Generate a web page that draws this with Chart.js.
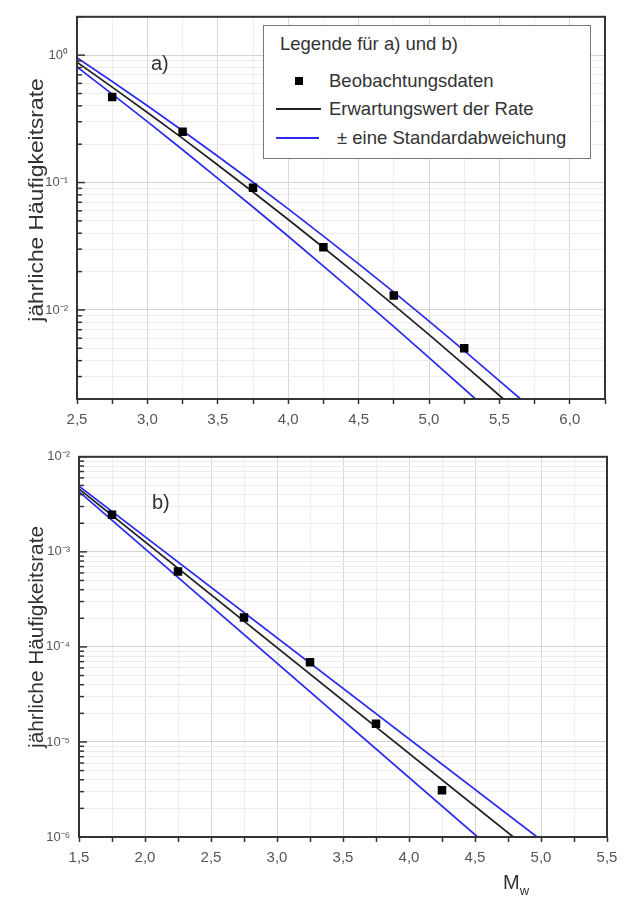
<!DOCTYPE html>
<html>
<head>
<meta charset="utf-8">
<script src="https://cdn.jsdelivr.net/npm/chart.js@4.4.1/dist/chart.umd.min.js"></script>
<style>
  body { margin: 0; background: #fff; width: 632px; height: 897px; position: relative; overflow: hidden;
         font-family: "Liberation Sans", Arial, sans-serif; color: #333; }
  canvas { position: absolute; left: 0; }
  .ovl { position: absolute; white-space: nowrap; }
  .ytitle { font-size: 20px; transform: translate(-50%, -50%) rotate(-90deg) scaleX(1.14); transform-origin: center; }
  .panel { font-size: 20px; line-height: 20px; }
  #legend { left: 263px; top: 25px; width: 328px; height: 134px; border: 1px solid #777; background: #fff; box-sizing: border-box; }
  #legend div { position: absolute; white-space: nowrap; font-size: 18.5px; line-height: 22px; height: 22px; }
  .sw { position: absolute; }
</style>
</head>
<body>
<canvas id="chartA" width="632" height="440" style="top:0"></canvas>
<canvas id="chartB" width="632" height="457" style="top:440px"></canvas>

<div class="ovl ytitle" style="left:36px; top:200px;">jährliche Häufigkeitsrate</div>
<div class="ovl ytitle" style="left:36px; top:637px; transform: translate(-50%, -50%) rotate(-90deg) scaleX(1.04);">jährliche Häufigkeitsrate</div>
<div class="ovl panel" style="left:151px; top:53px;">a)</div>
<div class="ovl panel" style="left:152px; top:492px;">b)</div>
<div class="ovl" style="left:503px; top:872px; font-size:20px; line-height:20px;">M<span style="font-size:13px; position:relative; top:6px;">w</span></div>

<div class="ovl" id="legend">
  <div style="left:16px; top:7px;">Legende für a) und b)</div>
  <span class="sw" style="left:31px; top:51px; width:8px; height:8px; background:#000;"></span>
  <div style="left:65px; top:44px;">Beobachtungsdaten</div>
  <span class="sw" style="left:12px; top:82px; width:45px; height:2px; background:#222;"></span>
  <div style="left:65px; top:72px;">Erwartungswert der Rate</div>
  <span class="sw" style="left:12px; top:111px; width:43px; height:2px; background:#2b2bf0;"></span>
  <div style="left:73px; top:101px;">± eine Standardabweichung</div>
</div>

<script>
// a) observed rates and fitted curves
const topObsM = [2.75, 3.25, 3.75, 4.25, 4.75, 5.25];
const topObsRate = [0.47, 0.25, 0.091, 0.031, 0.013, 0.005];
const topFitM = [2.5, 2.75, 3.0, 3.25, 3.5, 3.75, 4.0, 4.25, 4.5, 4.75, 5.0, 5.25, 5.5, 5.53];
const topFitRate = [0.88, 0.561, 0.355, 0.222, 0.1374, 0.0843, 0.0513, 0.0309, 0.01845, 0.0109, 0.0064, 0.0037, 0.00213, 0.002];
const topUpM = [2.5, 2.75, 3.0, 3.25, 3.5, 3.75, 4.0, 4.25, 4.5, 4.75, 5.0, 5.25, 5.5, 5.65];
const topUpRate = [0.955, 0.622, 0.401, 0.255, 0.161, 0.1006, 0.0622, 0.038, 0.023, 0.0138, 0.00817, 0.00479, 0.00278, 0.002];
const topLowM = [2.5, 2.75, 3.0, 3.25, 3.5, 3.75, 4.0, 4.25, 4.5, 4.75, 5.0, 5.33];
const topLowRate = [0.809, 0.495, 0.301, 0.181, 0.108, 0.0643, 0.0379, 0.0221, 0.01285, 0.0074, 0.00423, 0.002];

// b)
const botObsM = [1.75, 2.25, 2.75, 3.25, 3.75, 4.25];
const botObsRate = [0.00245, 0.00062, 0.000204, 0.000069, 0.0000155, 0.0000031];
const botFitM = [1.5, 4.79];
const botFitRate = [0.0046, 0.000001];
const botUpM = [1.5, 4.97];
const botUpRate = [0.0049, 0.000001];
const botLowM = [1.5, 4.52];
const botLowRate = [0.0043, 0.000001];

// axes
const topXRange = [2.5, 6.25];
const topYRange = [0.002, 2];
const botXRange = [1.5, 5.5];
const botYRange = [0.000001, 0.01];
const minorSteps = [1, 2, 3, 4, 5, 6, 7, 8, 9];

Chart.defaults.font.family = '"Liberation Sans", Arial, sans-serif';

const supMap = {'-': '⁻', '0': '⁰', '1': '¹', '2': '²', '3': '³', '4': '⁴', '5': '⁵', '6': '⁶', '7': '⁷', '8': '⁸', '9': '⁹'};
function powLabel(v) {
  const l = Math.log10(v), e = Math.round(l);
  if (Math.abs(l - e) > 1e-6) return '';
  return '10' + String(e).split('').map(c => supMap[c]).join('');
}
function logTicks(min, max) {
  const out = [];
  for (let e = Math.floor(Math.log10(min)); e <= Math.ceil(Math.log10(max)); e++) {
    minorSteps.forEach(k => {
      const v = k * Math.pow(10, e);
      if (v >= min * 0.999 && v <= max * 1.001) out.push(v);
    });
  }
  return out;
}
const isHalf = v => Math.abs(v * 2 - Math.round(v * 2)) < 1e-6;
const pts = (xs, ys) => xs.map((x, i) => ({x: x, y: ys[i]}));

const framePlugin = {
  id: 'frame',
  afterDatasetsDraw(chart) {
    const {ctx, chartArea: a} = chart;
    const y = chart.scales.y;
    ctx.save();
    ctx.strokeStyle = '#333';
    ctx.lineWidth = 1.5;
    y.ticks.forEach(t => {
      const py = y.getPixelForValue(t.value);
      const len = powLabel(t.value) ? 8 : 5;
      ctx.beginPath();
      ctx.moveTo(a.left, py);
      ctx.lineTo(a.left + len, py);
      ctx.stroke();
    });
    ctx.lineWidth = 2;
    ctx.strokeRect(a.left, a.top, a.right - a.left, a.bottom - a.top);
    ctx.restore();
  }
};

function buildChart(id, o) {
  const line = (label, data, color) => ({label, data, borderColor: color, borderWidth: 1.7,
    pointRadius: 0, fill: false, tension: 0});
  return new Chart(document.getElementById(id), {
    type: 'line',
    data: {
      datasets: [
        {label: 'Beobachtungsdaten', data: o.obs, showLine: false, pointStyle: 'rect', pointRadius: 6,
         pointBackgroundColor: '#000', pointBorderColor: '#000', pointBorderWidth: 0},
        line('Erwartungswert der Rate', o.fit, '#222'),
        line('+ Standardabweichung', o.up, '#2b2bf0'),
        line('- Standardabweichung', o.low, '#2b2bf0')
      ]
    },
    options: {
      responsive: false,
      animation: false,
      layout: {padding: {top: o.padTop, right: o.padRight, left: 0, bottom: 0}},
      plugins: {legend: {display: false}, tooltip: {enabled: false}},
      scales: {
        x: {
          type: 'linear', min: o.x[0], max: o.x[1],
          afterFit: s => { s.height = o.xAxisH; },
          border: {display: false},
          grid: {
            color: c => (c.tick && isHalf(c.tick.value)) ? '#d8d8d8' : '#eeeeee',
            drawTicks: true, tickLength: 5, tickColor: '#333', tickWidth: 1.5
          },
          ticks: {stepSize: 0.25, autoSkip: false, maxRotation: 0, padding: 7, color: '#555',
            font: {size: 15},
            callback: v => isHalf(v) ? v.toFixed(1).replace('.', ',') : ''}
        },
        y: {
          type: 'logarithmic', min: o.y[0], max: o.y[1],
          afterFit: s => { s.width = o.yAxisW; },
          afterBuildTicks: s => { s.ticks = logTicks(o.y[0], o.y[1]).map(v => ({value: v})); },
          border: {display: false},
          grid: {
            color: c => (c.tick && powLabel(c.tick.value)) ? '#d2d2d2' : '#ececec',
            drawTicks: false
          },
          ticks: {autoSkip: false, padding: 9, color: '#555', font: {size: 13},
            callback: v => powLabel(v)}
        }
      }
    },
    plugins: [framePlugin]
  });
}

buildChart('chartA', {
  obs: pts(topObsM, topObsRate), fit: pts(topFitM, topFitRate),
  up: pts(topUpM, topUpRate), low: pts(topLowM, topLowRate),
  x: topXRange, y: topYRange, padTop: 9, padRight: 27, xAxisH: 41, yAxisW: 77
});
buildChart('chartB', {
  obs: pts(botObsM, botObsRate), fit: pts(botFitM, botFitRate),
  up: pts(botUpM, botUpRate), low: pts(botLowM, botLowRate),
  x: botXRange, y: botYRange, padTop: 8, padRight: 25, xAxisH: 60, yAxisW: 79
});
</script>
</body>
</html>
